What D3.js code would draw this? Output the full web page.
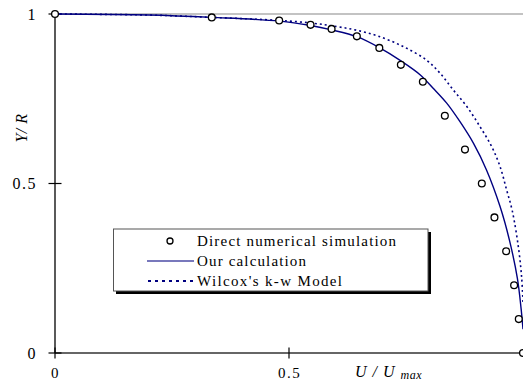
<!DOCTYPE html>
<html><head><meta charset="utf-8">
<script src="https://cdn.jsdelivr.net/npm/d3@7"></script>
<style>body{margin:0;background:#fff}svg{display:block}svg text{font-family:"Liberation Serif","Times New Roman",Times,serif}</style>
</head><body>
<script>
// Direct numerical simulation (circles)
const dnsU = [0, 0.335, 0.479, 0.546, 0.591, 0.645, 0.693, 0.739, 0.786, 0.833, 0.876, 0.912, 0.939, 0.964, 0.981, 0.991, 1.0];
const dnsY = [1, 0.99, 0.981, 0.968, 0.956, 0.934, 0.9, 0.85, 0.8, 0.7, 0.6, 0.5, 0.4, 0.3, 0.2, 0.1, 0.0];
// Our calculation (solid)
const calcU = [0, 0.2, 0.335, 0.48, 0.546, 0.591, 0.645, 0.694, 0.74, 0.78, 0.808, 0.837, 0.865, 0.894, 0.922, 0.951, 0.971, 0.988, 0.996, 1.0];
const calcY = [1, 0.997, 0.99, 0.979, 0.966, 0.953, 0.933, 0.9, 0.861, 0.821, 0.781, 0.737, 0.683, 0.619, 0.54, 0.432, 0.333, 0.22, 0.13, 0.07];
// Wilcox's k-w Model (dotted)
const wilU = [0, 0.2, 0.335, 0.48, 0.55, 0.602, 0.645, 0.69, 0.744, 0.794, 0.823, 0.851, 0.88, 0.908, 0.933, 0.951, 0.965, 0.977, 0.99, 0.997, 1.0];
const wilY = [1, 0.997, 0.99, 0.981, 0.973, 0.963, 0.952, 0.935, 0.904, 0.864, 0.825, 0.776, 0.727, 0.668, 0.609, 0.55, 0.481, 0.42, 0.314, 0.225, 0.15];
const xTicks = [0, 0.5];
const yTicks = [0, 0.5, 1];
const legendLabels = ["Direct numerical simulation", "Our calculation", "Wilcox's k-w Model"];

const W = 523, H = 385;
const svg = d3.select("body").append("svg").attr("width", W).attr("height", H);
const x = d3.scaleLinear().domain([0, 1]).range([55, 523]);
const y = d3.scaleLinear().domain([0, 1]).range([353, 14]);
const navy = "#000080";

// top gray line
svg.append("line").attr("x1", x(0)).attr("x2", x(1)).attr("y1", y(1)).attr("y2", y(1))
  .attr("stroke", "#888").attr("stroke-width", 1.2);

// axes
const yAxis = d3.axisLeft(y).tickValues(yTicks).tickSize(0).tickPadding(0).tickFormat(d3.format("~g"));
const gy = svg.append("g").attr("transform", `translate(${x(0)},0)`).call(yAxis);
gy.select(".domain").remove();
gy.attr("font-family", null).attr("font-size", null);
gy.selectAll("text").attr("x", -18).attr("font-size", 16).attr("letter-spacing", "1.5px").attr("fill", "#000");
const xAxis = d3.axisBottom(x).tickValues(xTicks).tickSize(0).tickPadding(0).tickFormat(d3.format("~g"));
const gx = svg.append("g").attr("transform", `translate(0,${y(0)})`).call(xAxis);
gx.select(".domain").remove();
gx.attr("font-family", null).attr("font-size", null);
gx.selectAll("text").attr("y", 14).attr("font-size", 15).attr("letter-spacing", "1.5px").attr("fill", "#000");

svg.append("line").attr("x1", x(0)).attr("x2", x(0)).attr("y1", y(1)).attr("y2", y(0)).attr("stroke", "#000").attr("stroke-width", 1.3);
svg.append("line").attr("x1", x(0)).attr("x2", x(1)).attr("y1", y(0)).attr("y2", y(0)).attr("stroke", "#333").attr("stroke-width", 1.3);
// cross ticks
yTicks.forEach(t => svg.append("line").attr("x1", x(0) - 6.5).attr("x2", x(0) + 6.5).attr("y1", y(t)).attr("y2", y(t)).attr("stroke", "#000").attr("stroke-width", 1.2));
xTicks.forEach(t => svg.append("line").attr("x1", x(t)).attr("x2", x(t)).attr("y1", y(0) - 5.5).attr("y2", y(0) + 5.5).attr("stroke", "#000").attr("stroke-width", 1.2));

// curves
const line = d3.line().x(d => x(d[0])).y(d => y(d[1])).curve(d3.curveCatmullRom.alpha(0.5));
svg.append("path").datum(wilU.map((u, i) => [u, wilY[i]])).attr("d", line)
  .attr("fill", "none").attr("stroke", navy).attr("stroke-width", 1.6).attr("stroke-dasharray", "2,3");
svg.append("path").datum(calcU.map((u, i) => [u, calcY[i]])).attr("d", line)
  .attr("fill", "none").attr("stroke", navy).attr("stroke-width", 1.4);

// circles
svg.append("g").selectAll("circle").data(dnsU.map((u, i) => [u, dnsY[i]])).join("circle")
  .attr("cx", d => x(d[0])).attr("cy", d => y(d[1])).attr("r", 3.4)
  .attr("fill", "#fff").attr("stroke", "#000").attr("stroke-width", 1.3);

// axis titles
svg.append("text").attr("transform", "translate(27,128) rotate(-90)").attr("text-anchor", "middle")
  .attr("font-style", "italic").attr("font-size", 16).attr("letter-spacing", "0.5px").text("Y/ R");
const xt = svg.append("text").attr("x", 355).attr("y", 377).attr("font-style", "italic").attr("font-size", 16);
xt.append("tspan").attr("letter-spacing", "1px").text("U / U ");
xt.append("tspan").attr("font-size", 12).attr("dy", 2).attr("letter-spacing", "0.5px").text("max");

// legend
const lg = svg.append("g");
lg.append("rect").attr("x", 116).attr("y", 232).attr("width", 315).attr("height", 62).attr("fill", "#000");
lg.append("rect").attr("x", 113.5).attr("y", 229).attr("width", 314.5).attr("height", 62).attr("fill", "#fff").attr("stroke", "#555").attr("stroke-width", 1);
const rowY = [241, 261, 281];
lg.append("circle").attr("cx", 170).attr("cy", rowY[0]).attr("r", 3).attr("fill", "#fff").attr("stroke", "#000").attr("stroke-width", 1.3);
lg.append("line").attr("x1", 147).attr("x2", 194).attr("y1", rowY[1]).attr("y2", rowY[1]).attr("stroke", "#4b4ba6").attr("stroke-width", 1.4);
lg.append("line").attr("x1", 148).attr("x2", 194).attr("y1", rowY[2]).attr("y2", rowY[2]).attr("stroke", navy).attr("stroke-width", 2).attr("stroke-dasharray", "3,4");
const lens = [199, 109, 145];
legendLabels.forEach((t, i) => {
  lg.append("text").attr("x", 197).attr("y", rowY[i] + 5).attr("font-size", 15)
    .attr("textLength", lens[i]).attr("lengthAdjust", "spacing").text(t);
});
</script>
</body></html>
